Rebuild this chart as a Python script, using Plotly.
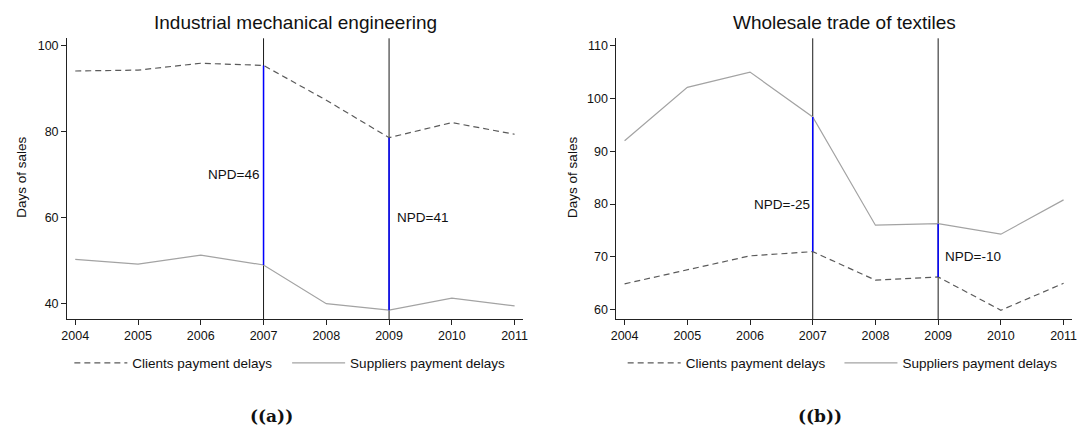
import plotly.graph_objects as go

years = [2004, 2005, 2006, 2007, 2008, 2009, 2010, 2011]

# Panel (a): Industrial mechanical engineering
mech_clients = [94.1, 94.3, 95.9, 95.4, 87.3, 78.6, 82.1, 79.4]
mech_suppliers = [50.3, 49.2, 51.3, 49.0, 40.0, 38.5, 41.3, 39.5]

# Panel (b): Wholesale trade of textiles
tex_clients = [64.9, 67.5, 70.2, 71.0, 65.6, 66.2, 59.9, 65.0]
tex_suppliers = [92.0, 102.1, 105.0, 96.5, 76.0, 76.3, 74.3, 80.8]

marked_years = [2007, 2009]
npd_a = ["NPD=46", "NPD=41"]
npd_a_y = [70, 60]
npd_b = ["NPD=-25", "NPD=-10"]
npd_b_y = [80, 70]

titles = ["Industrial mechanical engineering", "Wholesale trade of textiles"]
captions = ["((a))", "((b))"]
series_names = ["Clients payment delays", "Suppliers payment delays"]

W, H = 1083, 432
FONT = "Liberation Sans, Arial, sans-serif"
DASH_COL = "#5a5a5a"
SOLID_COL = "#a3a3a3"

def px_x(p):
    return p / W

def px_y(p):
    return 1 - p / H

dom_a = [px_x(61.7), px_x(522.7)]
dom_b = [px_x(616.7), px_x(1077.3)]
ydom = [px_y(319), px_y(38.3)]

fig = go.Figure()

panel_data = [("x", "y", mech_clients, mech_suppliers, "legend", "legend2"),
              ("x2", "y2", tex_clients, tex_suppliers, "legend3", "legend4")]
for xr, yr, cl, su, lg1, lg2 in panel_data:
    fig.add_trace(go.Scatter(x=years, y=cl, mode="lines", name=series_names[0],
                             line=dict(color=DASH_COL, width=1.2, dash="6px,4px"),
                             xaxis=xr, yaxis=yr, legend=lg1, showlegend=True))
    fig.add_trace(go.Scatter(x=years, y=su, mode="lines", name=series_names[1],
                             line=dict(color=SOLID_COL, width=1.2),
                             xaxis=xr, yaxis=yr, legend=lg2, showlegend=True))

shapes = []
annotations = []
for xr, yr, cl, su, _, _ in panel_data:
    for yr_mark in marked_years:
        shapes.append(dict(type="line", xref=xr, yref=yr + " domain", x0=yr_mark, x1=yr_mark,
                           y0=0, y1=1, line=dict(color="#1a1a1a", width=1), layer="below"))
        i = years.index(yr_mark)
        shapes.append(dict(type="line", xref=xr, yref=yr, x0=yr_mark, x1=yr_mark,
                           y0=su[i], y1=cl[i], line=dict(color="#0000ff", width=1.5), layer="above"))

# NPD annotations
anchors = ["right", "left"]
for k, yr_mark in enumerate(marked_years):
    annotations.append(dict(x=yr_mark, y=npd_a_y[k], xref="x", yref="y", text=npd_a[k],
                            showarrow=False, xanchor=anchors[k],
                            xshift=-3 if anchors[k] == "right" else 6,
                            font=dict(family=FONT, size=13.5, color="#111")))
    annotations.append(dict(x=yr_mark, y=npd_b_y[k], xref="x2", yref="y2", text=npd_b[k],
                            showarrow=False, xanchor=anchors[k],
                            xshift=-1 if anchors[k] == "right" else 5,
                            font=dict(family=FONT, size=13.5, color="#111")))

# Titles
for k, xr in enumerate(["x", "x2"]):
    annotations.append(dict(x=0.5, y=px_y(23), xref=xr + " domain", yref="paper", text=titles[k],
                            showarrow=False, xanchor="center", yanchor="middle",
                            font=dict(family=FONT, size=19, color="#111")))
# Y titles
for xpos in [15, 571.7]:
    annotations.append(dict(x=px_x(xpos), y=px_y(177), xref="paper", yref="paper",
                            text="Days of sales", textangle=-90, showarrow=False,
                            xanchor="center", yanchor="middle",
                            font=dict(family=FONT, size=13.5, color="#111")))
# Captions
for xpos, cap in zip([268, 822], captions):
    annotations.append(dict(x=px_x(xpos), y=px_y(416), xref="paper", yref="paper",
                            text="<b>" + cap + "</b>", showarrow=False,
                            xanchor="center", yanchor="middle",
                            font=dict(family="DejaVu Serif, serif", size=17, color="#111")))

axis_common = dict(showline=True, linecolor="#222", linewidth=1, ticks="outside", ticklen=5,
                   tickcolor="#222", showgrid=False, zeroline=False,
                   tickfont=dict(family=FONT, size=12.5, color="#111"))

def legend_at(xpix):
    return dict(orientation="h", x=px_x(xpix), y=px_y(363), xanchor="left", yanchor="middle",
                itemwidth=53, font=dict(family=FONT, size=13.5, color="#111"),
                bgcolor="rgba(0,0,0,0)", itemclick=False, itemdoubleclick=False, visible=True)

fig.update_layout(
    width=W, height=H,
    margin=dict(l=0, r=0, t=0, b=0),
    paper_bgcolor="white", plot_bgcolor="white",
    showlegend=True,
    shapes=shapes, annotations=annotations,
    xaxis=dict(domain=dom_a, range=[2003.87, 2011.14], tickvals=years, anchor="y", **axis_common),
    yaxis=dict(domain=ydom, range=[36.44, 101.7], tickvals=[40, 60, 80, 100], anchor="x", **axis_common),
    xaxis2=dict(domain=dom_b, range=[2003.87, 2011.14], tickvals=years, anchor="y2", **axis_common),
    yaxis2=dict(domain=ydom, range=[58.24, 111.4], tickvals=[60, 70, 80, 90, 100, 110], anchor="x2", **axis_common),
    legend=legend_at(64),
    legend2=legend_at(284),
    legend3=legend_at(623),
    legend4=legend_at(842),
)

fig.write_html("out.html", config={"displayModeBar": False},
               post_script="document.body.style.margin='0';")
